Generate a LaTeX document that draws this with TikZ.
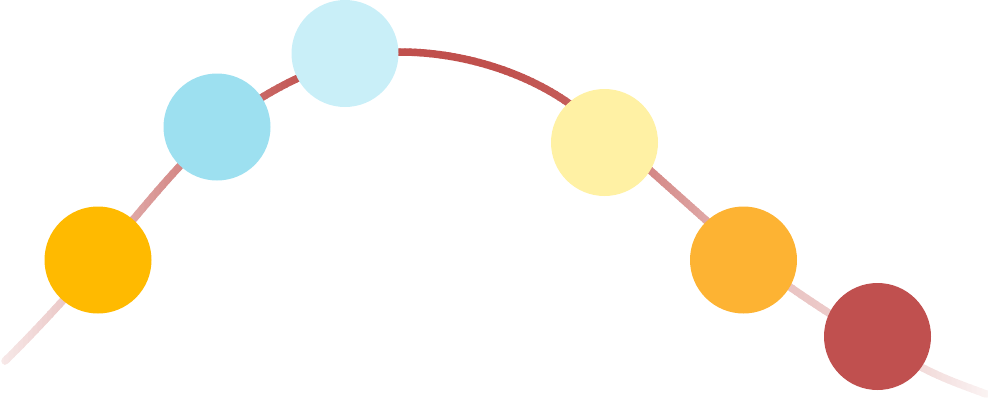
\documentclass[tikz,border=0pt]{standalone}
\definecolor{arcred}{HTML}{C0504D}
\definecolor{cA}{HTML}{FFBA00}
\definecolor{cB}{HTML}{9DE0F0}
\definecolor{cC}{HTML}{C9EFF8}
\definecolor{cD}{HTML}{FFF1A4}
\definecolor{cE}{HTML}{FDB333}
\definecolor{cF}{HTML}{C0504F}
\tikzset{
  dot/.style={circle, minimum size=107pt, inner sep=0pt, draw=none},
  arcline/.style={line width=7.5pt, line cap=round}
}
\def\arcpath{(5,361) .. controls (35,331.6) and (68,295.5) .. (98,261)
  .. controls (138,215) and (177,164) .. (217,130)
  .. controls (272,83) and (345,52) .. (400,52)
  .. controls (460,52) and (522,71) .. (567,102)
  .. controls (595,121.3) and (624,147) .. (652,172)
  .. controls (671,189) and (689,205) .. (708,222)
  .. controls (735,246) and (762,267) .. (790,287)
  .. controls (830,315) and (885,349) .. (927,370)
  .. controls (947,380) and (966,386.5) .. (986,394)}
\begin{document}
\begin{tikzpicture}[x=1pt,y=-1pt]
\useasboundingbox (0,0) rectangle (988,402);
\foreach \xa/\pa/\xb/\pb in {0/0.12/62/0.30, 62/0.30/140/0.53, 140/0.53/180/0.68,
  180/0.68/262/0.86, 262/0.86/297/0.95, 297/0.95/340/1, 340/1/500/1,
  500/1/567/0.93, 567/0.93/652/0.68, 652/0.68/708/0.5, 708/0.5/790/0.34,
  790/0.34/827/0.3, 827/0.3/927/0.2, 927/0.2/992/0.06}{
  \pgfmathsetmacro\nn{int(ceil((\xb-\xa)/5))}
  \foreach \i in {1,...,\nn}{
    \pgfmathsetmacro\xl{\xa+(\xb-\xa)*(\i-1)/\nn}
    \pgfmathsetmacro\xr{\xa+(\xb-\xa)*\i/\nn}
    \pgfmathsetmacro\pp{100*(\pa+(\pb-\pa)*(\i-0.5)/\nn)}
    \begin{scope}
      \clip (\xl-0.6,-10) rectangle (\xr+0.6,420);
      \draw[arcline, draw=arcred!\pp!white] \arcpath;
    \end{scope}
  }
}
\node[dot, fill=cA] (n1) at (98,260) {};
\node[dot, fill=cB] (n2) at (217,127) {};
\node[dot, fill=cC] (n3) at (345,53.5) {};
\node[dot, fill=cD] (n4) at (604.5,142.5) {};
\node[dot, fill=cE] (n5) at (743.5,260) {};
\node[dot, fill=cF] (n6) at (877.5,336.5) {};
\end{tikzpicture}
\end{document}
